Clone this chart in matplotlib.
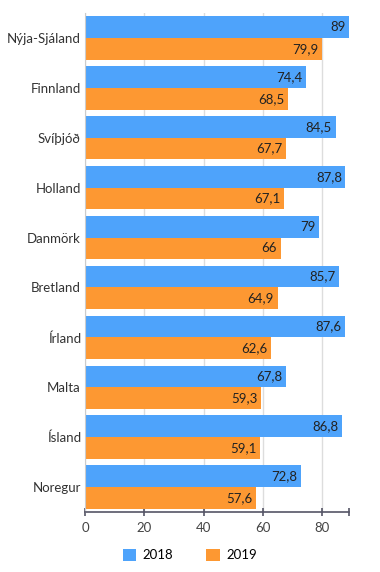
import numpy as np
import matplotlib.pyplot as plt

plt.rcParams['font.family'] = ['Lato', 'DejaVu Sans']

countries = ["Nýja-Sjáland", "Finnland", "Svíþjóð", "Holland", "Danmörk",
             "Bretland", "Írland", "Malta", "Ísland", "Noregur"]
v2018 = [89, 74.4, 84.5, 87.8, 79, 85.7, 87.6, 67.8, 86.8, 72.8]
v2019 = [79.9, 68.5, 67.7, 67.1, 66, 64.9, 62.6, 59.3, 59.1, 57.6]
ticks = [0, 20, 40, 60, 80]

c18 = "#4ea3fb"
c19 = "#fd9832"

fig = plt.figure(figsize=(3.8, 5.72), dpi=100)
ax = fig.add_axes([85/380, 1-512/572, (349-85)/380, (512-13)/572])

y = np.arange(len(countries))
h = 0.435
b1 = ax.barh(y - h/2, v2018, height=h, color=c18, label="2018", zorder=2)
b2 = ax.barh(y + h/2, v2019, height=h, color=c19, label="2019", zorder=2)

def fmt(v):
    s = ("%g" % v).replace(".", ",")
    return s

for bars, vals in ((b1, v2018), (b2, v2019)):
    for r, v in zip(bars, vals):
        ax.text(v - 1.2, r.get_y() + r.get_height()/2, fmt(v), ha="right",
                va="center", fontsize=9.5, color="#222222", zorder=3)

ax.set_ylim(len(countries) - 0.5, -0.5)
ax.set_xlim(0, 89)
ax.set_yticks(y)
ax.set_yticklabels(countries, fontsize=9.5, color="#333333")
ax.set_xticks(ticks)
ax.set_xticks([89], minor=True)
ax.set_xticklabels([str(t) for t in ticks], fontsize=9.5, color="#444444")
ax.tick_params(axis="y", length=0, pad=3)
ax.tick_params(axis="x", which="both", length=6, color="#555566", width=1.2,
               direction="inout", pad=4)
ax.grid(axis="x", color="#dddddd", linewidth=1, zorder=0)
for s in ("top", "right"):
    ax.spines[s].set_visible(False)
ax.spines["left"].set_color("#cccccc")
ax.spines["bottom"].set_color("#555566")
ax.spines["bottom"].set_linewidth(1.2)

fig.legend(handles=[b1, b2], loc="center", bbox_to_anchor=(0.5, 1-555/572),
           ncol=2, frameon=False, fontsize=9.5, handlelength=1, handleheight=1,
           columnspacing=2.5, handletextpad=0.5)

fig.savefig("out.png", dpi=100)
